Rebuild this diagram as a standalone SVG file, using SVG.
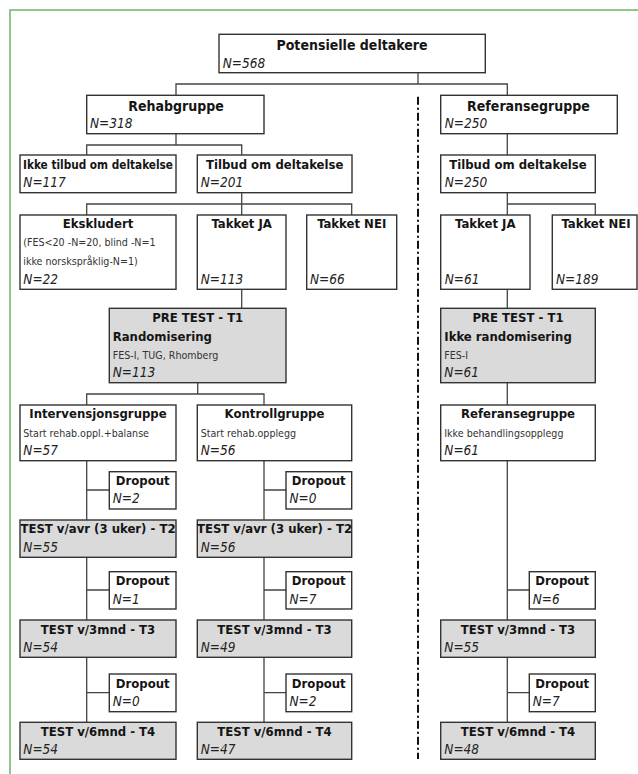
<svg xmlns="http://www.w3.org/2000/svg" width="638" height="774" viewBox="0 0 638 774">
<defs>
<style>
.frame{fill:none;stroke:#6db46d;stroke-width:1.5}
.b{fill:#fff;stroke:#333;stroke-width:1.4}
.g{fill:#dadada;stroke:#333;stroke-width:1.4}
text{font-family:"DejaVu Sans Condensed","DejaVu Sans",sans-serif;font-stretch:condensed;fill:#151515}
.t{font-weight:bold;font-size:13px;text-anchor:middle}
.t1{font-weight:bold;font-size:14px;text-anchor:middle}
.tl{font-weight:bold;font-size:13px}
.n{font-style:italic;font-size:13.5px;fill:#222}
.s{font-size:10.6px;fill:#333}
#connectors path{fill:none;stroke:#444;stroke-width:1.3}
#divider{fill:none;stroke:#111;stroke-width:2;stroke-dasharray:8 3 2 3}
</style>
</defs>
<rect class="frame" x="10" y="10" width="640" height="780"/>
<g id="connectors">
<path d="M418,72.7V84M176,95.3V84H507.3V95.3"/>
<path d="M176,133.7V145M86.7,155V145H241.7V155"/>
<path d="M507.3,133.7V155"/>
<path d="M241.7,192.7V215M86.7,215V204H351.7V215"/>
<path d="M507.3,192.7V215M507.3,204H595.3V215"/>
<path d="M241.7,289.3V308.3M507.3,289.3V308.3"/>
<path d="M197.7,382.7V394M86.7,405V394H264V405"/>
<path d="M507.3,382.7V405"/>
<path d="M86.7,460.7V520M86.7,490H109.3M86.7,557.3V620M86.7,590H109.3M86.7,657.3V722.3M86.7,692.7H109.3"/>
<path d="M264,460.7V520M264,490H286M264,557.3V620M264,590H286M264,657.3V722.3M264,692.7H286"/>
<path d="M507.3,460.7V620M507.3,590H529.3M507.3,657.3V722.3M507.3,692.7H529.3"/>
</g>
<path id="divider" d="M418,96.7V759"/>
<g id="potensielle"><rect class="b" x="219" y="34.3" width="266.3" height="38.4"/><text class="t1" x="352" y="49.5">Potensielle deltakere</text><text class="n" x="222.7" y="68">N=568</text></g>
<g id="rehabgruppe"><rect class="b" x="86.7" y="95.3" width="177.3" height="38.4"/><text class="t1" x="176" y="110.5">Rehabgruppe</text><text class="n" x="90" y="128.3">N=318</text></g>
<g id="referansegruppe"><rect class="b" x="440.7" y="95.3" width="176.6" height="38.4"/><text class="t1" x="528.5" y="110.5">Referansegruppe</text><text class="n" x="444.7" y="128.3">N=250</text></g>
<g id="ikke-tilbud"><rect class="b" x="20" y="155" width="156" height="37.7"/><text class="t" x="98" y="169.3" textLength="150" lengthAdjust="spacingAndGlyphs">Ikke tilbud om deltakelse</text><text class="n" x="23.3" y="187.3">N=117</text></g>
<g id="tilbud"><rect class="b" x="197.3" y="155" width="154.7" height="37.7"/><text class="t" x="274.7" y="169.3">Tilbud om deltakelse</text><text class="n" x="200.7" y="187.3">N=201</text></g>
<g id="ref-tilbud"><rect class="b" x="440.7" y="155" width="154.6" height="37.7"/><text class="t" x="518" y="169.3">Tilbud om deltakelse</text><text class="n" x="444.7" y="187.3">N=250</text></g>
<g id="ekskludert"><rect class="b" x="20" y="215" width="156" height="74.3"/><text class="t" x="98" y="228.3">Ekskludert</text><text class="s" x="23.3" y="245.7">(FES&lt;20 -N=20, blind -N=1</text><text class="s" x="23.3" y="265">ikke norskspråklig-N=1)</text><text class="n" x="23.3" y="284">N=22</text></g>
<g id="takket-ja"><rect class="b" x="197.3" y="215" width="88.7" height="74.3"/><text class="t" x="241.7" y="228.3">Takket JA</text><text class="n" x="200.7" y="284">N=113</text></g>
<g id="takket-nei"><rect class="b" x="306.7" y="215" width="90" height="74.3"/><text class="t" x="351.7" y="228.3">Takket NEI</text><text class="n" x="310" y="284">N=66</text></g>
<g id="ref-takket-ja"><rect class="b" x="440.7" y="215" width="89.3" height="74.3"/><text class="t" x="485.3" y="228.3">Takket JA</text><text class="n" x="444.7" y="284">N=61</text></g>
<g id="ref-takket-nei"><rect class="b" x="552.3" y="215" width="84.7" height="74.3"/><text class="t" x="596" y="228.3">Takket NEI</text><text class="n" x="556" y="284">N=189</text></g>
<g id="pretest"><rect class="g" x="109.3" y="308.3" width="176.7" height="74.4"/><text class="t" x="197.7" y="322.3">PRE TEST - T1</text><text class="tl" x="112.7" y="340.7">Randomisering</text><text class="s" x="112.7" y="359">FES-I, TUG, Rhomberg</text><text class="n" x="112.7" y="376.7">N=113</text></g>
<g id="ref-pretest"><rect class="g" x="440.7" y="308.3" width="154.6" height="74.4"/><text class="t" x="518" y="322.3">PRE TEST - T1</text><text class="tl" x="444.3" y="340.7">Ikke randomisering</text><text class="s" x="444.3" y="359">FES-I</text><text class="n" x="444.3" y="376.7">N=61</text></g>
<g id="intervensjon"><rect class="b" x="20" y="405" width="156" height="55.7"/><text class="t" x="98" y="418.3">Intervensjonsgruppe</text><text class="s" x="23.3" y="436.7">Start rehab.oppl.+balanse</text><text class="n" x="23.3" y="455">N=57</text></g>
<g id="kontroll"><rect class="b" x="197.3" y="405" width="154.4" height="55.7"/><text class="t" x="274.5" y="418.3">Kontrollgruppe</text><text class="s" x="200.7" y="436.7">Start rehab.opplegg</text><text class="n" x="200.7" y="455">N=56</text></g>
<g id="ref-gruppe2"><rect class="b" x="440.7" y="405" width="154.6" height="55.7"/><text class="t" x="518" y="418.3">Referansegruppe</text><text class="s" x="444.3" y="436.7">Ikke behandlingsopplegg</text><text class="n" x="444.3" y="455">N=61</text></g>
<g id="i-drop1"><rect class="b" x="109.3" y="471.7" width="66.7" height="37.3"/><text class="t" x="142.7" y="485">Dropout</text><text class="n" x="112.7" y="503.3">N=2</text></g>
<g id="i-t2"><rect class="g" x="20" y="520" width="156" height="37.3"/><text class="t" x="98" y="532.5">TEST v/avr (3 uker) - T2</text><text class="n" x="23.3" y="551.7">N=55</text></g>
<g id="i-drop2"><rect class="b" x="109.3" y="571.7" width="66.7" height="37.3"/><text class="t" x="142.7" y="585.3">Dropout</text><text class="n" x="112.7" y="604">N=1</text></g>
<g id="i-t3"><rect class="g" x="20" y="620" width="156" height="37.3"/><text class="t" x="98" y="634">TEST v/3mnd - T3</text><text class="n" x="23.3" y="651.7">N=54</text></g>
<g id="i-drop3"><rect class="b" x="109.3" y="674" width="66.7" height="37.7"/><text class="t" x="142.7" y="687.5">Dropout</text><text class="n" x="112.7" y="706">N=0</text></g>
<g id="i-t4"><rect class="g" x="20" y="722.3" width="156" height="37"/><text class="t" x="98" y="736">TEST v/6mnd - T4</text><text class="n" x="23.3" y="754">N=54</text></g>
<g id="k-drop1"><rect class="b" x="286" y="471.7" width="65.7" height="37.3"/><text class="t" x="318.8" y="485">Dropout</text><text class="n" x="289.4" y="503.3">N=0</text></g>
<g id="k-t2"><rect class="g" x="197.3" y="520" width="154.4" height="37.3"/><text class="t" x="274.5" y="532.5">TEST v/avr (3 uker) - T2</text><text class="n" x="200.7" y="551.7">N=56</text></g>
<g id="k-drop2"><rect class="b" x="286" y="571.7" width="65.7" height="37.3"/><text class="t" x="318.8" y="585.3">Dropout</text><text class="n" x="289.4" y="604">N=7</text></g>
<g id="k-t3"><rect class="g" x="197.3" y="620" width="154.4" height="37.3"/><text class="t" x="274.5" y="634">TEST v/3mnd - T3</text><text class="n" x="200.7" y="651.7">N=49</text></g>
<g id="k-drop3"><rect class="b" x="286" y="674" width="65.7" height="37.7"/><text class="t" x="318.8" y="687.5">Dropout</text><text class="n" x="289.4" y="706">N=2</text></g>
<g id="k-t4"><rect class="g" x="197.3" y="722.3" width="154.4" height="37"/><text class="t" x="274.5" y="736">TEST v/6mnd - T4</text><text class="n" x="200.7" y="754">N=47</text></g>
<g id="r-drop1"><rect class="b" x="529.3" y="571.7" width="66" height="37.3"/><text class="t" x="562.3" y="585.3">Dropout</text><text class="n" x="532.7" y="604">N=6</text></g>
<g id="r-t3"><rect class="g" x="440.7" y="620" width="154.6" height="37.3"/><text class="t" x="518" y="634">TEST v/3mnd - T3</text><text class="n" x="444.3" y="651.7">N=55</text></g>
<g id="r-drop2"><rect class="b" x="529.3" y="674" width="66" height="37.7"/><text class="t" x="562.3" y="687.5">Dropout</text><text class="n" x="532.7" y="706">N=7</text></g>
<g id="r-t4"><rect class="g" x="440.7" y="722.3" width="154.6" height="37"/><text class="t" x="518" y="736">TEST v/6mnd - T4</text><text class="n" x="444.3" y="754">N=48</text></g>
</svg>
